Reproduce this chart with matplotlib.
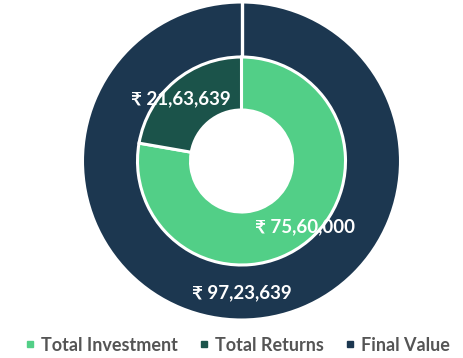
import matplotlib
matplotlib.use("Agg")
import matplotlib.pyplot as plt
from matplotlib.lines import Line2D
import numpy as np

categories = ["Total Investment", "Total Returns", "Final Value"]
investment = 7560000
returns = 2163639
final_value = 9723639
inner_values = [investment, returns]
outer_values = [final_value]
label_texts = ["₹ 75,60,000", "₹ 21,63,639", "₹ 97,23,639"]

colors = {"Total Investment": "#52cf87", "Total Returns": "#1b534a", "Final Value": "#1c3750"}

plt.rcParams['font.family'] = ['Lato', 'DejaVu Sans']

fig = plt.figure(figsize=(4.63, 3.58), dpi=100)
cx, cy, R = 241.5, 161, 159
ax = fig.add_axes([(cx - R) / 463, 1 - (cy + R) / 358, 2 * R / 463, 2 * R / 358])

r_in_outer = 104 / 159
r_hole = 51 / 159
owedges, _ = ax.pie(outer_values, radius=1.0, colors=[colors["Final Value"]], startangle=90, counterclock=False,
                    wedgeprops=dict(width=1.0 - r_in_outer + 0.01, edgecolor='white', linewidth=2.2), frame=True)
wedges, _ = ax.pie(inner_values, radius=r_in_outer, colors=[colors["Total Investment"], colors["Total Returns"]],
                   startangle=90, counterclock=False,
                   wedgeprops=dict(width=r_in_outer - r_hole, edgecolor='white', linewidth=2.2), frame=True)
ax.set_xlim(-1, 1)
ax.set_ylim(-1, 1)
ax.set_aspect('equal')
ax.axis('off')

# radial border of the single outer slice
a0 = np.deg2rad(owedges[0].theta2)
ax.plot([r_in_outer * np.cos(a0), 1.02 * np.cos(a0)], [r_in_outer * np.sin(a0), 1.02 * np.sin(a0)],
        color='white', lw=2.4, solid_capstyle='butt', clip_on=False)

def mid(w, r):
    a = np.deg2rad((w.theta1 + w.theta2) / 2)
    return r * np.cos(a), r * np.sin(a)

r_mid_inner = (r_in_outer + r_hole) / 2
offsets = [(0.085, -0.04), (-0.065, 0.02)]
for w, txt, off in zip(wedges, label_texts[:2], offsets):
    x, y = mid(w, r_mid_inner)
    ax.text(x + off[0], y + off[1], txt, color='white', fontsize=13.5, fontweight='bold',
            ha='center', va='center')
ax.text(0, -(1 + r_in_outer) / 2, label_texts[2], color='white', fontsize=13.5, fontweight='bold',
        ha='center', va='center')

handles = [Line2D([], [], marker='s', linestyle='none', markersize=5, color=colors[c]) for c in categories]
fig.legend(handles, categories, loc='center', bbox_to_anchor=(0.512, 0.036), ncol=3, frameon=False,
           prop=dict(family=['Lato', 'DejaVu Sans'], size=13, weight='bold'), labelcolor='#555555',
           handlelength=0.6, handletextpad=0.3, columnspacing=1.15)

fig.savefig("out.png", dpi=100)
